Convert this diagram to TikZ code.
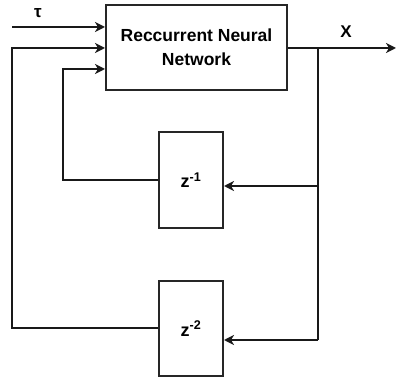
\documentclass[tikz,border=0pt]{standalone}
\usepackage{fontspec}
\setmainfont{Liberation Sans}
\usetikzlibrary{arrows.meta}
\begin{document}
\begin{tikzpicture}[x=1pt,y=-1pt,
  blk/.style={draw=black!85,line width=2pt,rectangle,inner sep=0pt,align=center,font=\bfseries\fontsize{17.5}{24}\selectfont},
  zblk/.style={blk,font=\bfseries\fontsize{18}{20}\selectfont},
  wire/.style={draw=black!90,line width=2pt},
  arr/.style={wire,-{Stealth[length=10pt,width=10pt,inset=3pt]}},
  lbl/.style={font=\bfseries\fontsize{17}{20}\selectfont,inner sep=0pt}]
\useasboundingbox (0,0) rectangle (396,379);
\node[blk,minimum width=181pt,minimum height=85pt] (rnn) at (196.5,47.5) {Reccurrent Neural\\Network};
\node[zblk,minimum width=64pt,minimum height=96pt] (z1) at (191,180) {\raisebox{-3pt}{z\textsuperscript{-1}}};
\node[zblk,minimum width=64pt,minimum height=95pt] (z2) at (191,328.5) {\raisebox{-3pt}{z\textsuperscript{-2}}};
\coordinate (tauin) at (12,27);
\coordinate (out) at (396,48);
\coordinate (j) at (318,48);
\coordinate (j1) at (318,186);
\coordinate (j2) at (318,340);
\coordinate (f1) at (63,180);
\coordinate (f2) at (12,328);
\node[lbl] (tau) at (38,13) {τ};
\node[lbl] (x) at (346,32) {X};
\draw[arr] (tauin) -- (tauin -| rnn.west);
\draw[arr] (rnn.east |- j) -- (out);
\draw[wire] (j) -- (j2);
\draw[arr] (j1) -- (j1 -| z1.east);
\draw[arr] (j2) -- (j2 -| z2.east);
\draw[arr] (f1 -| z1.west) -- (f1) -- (63,69) -- (rnn.west |- 0,69);
\draw[arr] (f2 -| z2.west) -- (f2) -- (12,48) -- (rnn.west |- 0,48);
\end{tikzpicture}
\end{document}
